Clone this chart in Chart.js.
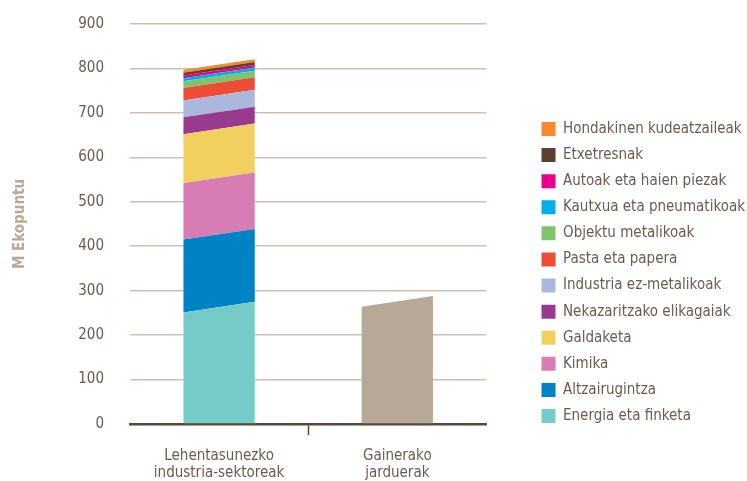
<!DOCTYPE html>
<html>
<head>
<meta charset="utf-8">
<script src="https://cdn.jsdelivr.net/npm/chart.js@4/dist/chart.umd.min.js"></script>
<style>
  html, body { margin: 0; padding: 0; background: #ffffff; }
  #wrap { width: 747px; height: 481px; }
</style>
</head>
<body>
<div id="wrap"><canvas id="c" width="747" height="481"></canvas></div>
<script>
// ---- data ----
const categories = [["Lehentasunezko", "industria-sektoreak"], ["Gainerako", "jarduerak"]];
const yTicks = [0, 100, 200, 300, 400, 500, 600, 700, 800, 900];
const yTitle = "M Ekopuntu";

// sectors, bottom -> top of the stacked bar
const sectorNames = [
  "Energia eta finketa",
  "Altzairugintza",
  "Kimika",
  "Galdaketa",
  "Nekazaritzako elikagaiak",
  "Industria ez-metalikoak",
  "Pasta eta papera",
  "Objektu metalikoak",
  "Kautxua eta pneumatikoak",
  "Autoak eta haien piezak",
  "Etxetresnak",
  "Hondakinen kudeatzaileak"
];
const sectorValues = [263, 164, 127, 110, 38, 38, 28, 15, 7, 6, 6.5, 6.5];
const sectorColors = [
  "#74cbc8", "#0083c4", "#d87cb4", "#f2d060", "#9a3a8e", "#aab8de",
  "#ef4c35", "#7fc36f", "#00aee8", "#e8008a", "#5c4030", "#f58a2e"
];
const otherName = "Gainerako jarduerak";
const otherValue = 276;
const otherColor = "#b8a898";

// ---- styles ----
const FONT = "'Liberation Sans Narrow', 'DejaVu Sans Condensed', 'Roboto Condensed', 'Liberation Sans', sans-serif";
const TEXT = "#6b5a4e";
const SLANT = 5.3;

const datasets = sectorNames.map((name, i) => ({
  label: name,
  data: [sectorValues[i], null],
  backgroundColor: sectorColors[i],
  borderWidth: 0,
  yAxisID: "y",
  stack: "s"
}));
datasets.push({
  label: otherName,
  data: [null, otherValue],
  backgroundColor: otherColor,
  borderWidth: 0,
  yAxisID: "y",
  stack: "s",
  legendHidden: true
});

// draws each bar segment as a slanted-top block using the bar element geometry
const slantBars = {
  id: "slantBars",
  beforeDatasetDraw(chart, args) {
    const meta = args.meta;
    const ctx = chart.ctx;
    const all = chart.data.datasets;
    const ds = all[args.index];
    ctx.save();
    ctx.fillStyle = ds.backgroundColor;
    meta.data.forEach((el, i) => {
      if (ds.data[i] === null || ds.data[i] === undefined) return;
      let below = 0;
      for (let k = 0; k < args.index; k++) below += all[k].data[i] || 0;
      const p = el.getProps(["x", "y", "base", "width"], true);
      const l = p.x - p.width / 2, r = p.x + p.width / 2;
      const b = below === 0 ? 0 : SLANT;
      ctx.beginPath();
      ctx.moveTo(l, p.base + b);
      ctx.lineTo(l, p.y + SLANT);
      ctx.lineTo(r, p.y - SLANT);
      ctx.lineTo(r, p.base - b);
      ctx.closePath();
      ctx.fill();
    });
    ctx.restore();
    return false;
  }
};

new Chart(document.getElementById("c"), {
  type: "bar",
  data: { labels: categories, datasets },
  plugins: [slantBars],
  options: {
    responsive: false,
    animation: false,
    devicePixelRatio: 1,
    layout: { padding: { top: 24, left: 0, right: -8, bottom: 0 } },
    datasets: { bar: { barPercentage: 0.8, categoryPercentage: 0.5 } },
    plugins: {
      tooltip: { enabled: false },
      legend: {
        position: "right",
        reverse: true,
        maxWidth: 320,
        title: { display: true, text: "", font: { size: 10, lineHeight: 1 }, padding: { top: 30, bottom: 0 } },
        labels: {
          boxWidth: 14,
          boxHeight: 14,
          padding: 11.1,
          color: TEXT,
          font: { family: FONT, size: 15 },
          filter: (item, data) => !data.datasets[item.datasetIndex].legendHidden
        }
      }
    },
    scales: {
      x: {
        stacked: true,
        offset: true,
        grid: {
          offset: true,
          drawOnChartArea: false,
          drawTicks: true,
          tickLength: 11,
          tickWidth: 1.5,
          tickColor: (c) => (c.index === 1 ? "#5a4636" : "rgba(0,0,0,0)")
        },
        border: { display: true, color: "#5a4636", width: 2.5 },
        ticks: {
          color: TEXT,
          padding: 12,
          maxRotation: 0,
          font: { family: FONT, size: 15, lineHeight: 1.15 }
        },
        afterFit: (s) => { s.height = 57; }
      },
      y: {
        stacked: true,
        min: 0,
        max: 900,
        afterBuildTicks: (s) => { s.ticks = yTicks.map(v => ({ value: v })); },
        grid: { color: "#cdbfb4", lineWidth: 1.5, drawTicks: true, tickLength: 24, tickColor: "rgba(0,0,0,0)" },
        border: { display: false },
        ticks: {
          color: TEXT,
          padding: 2,
          font: { family: FONT, size: 15 }
        },
        title: {
          display: true,
          text: yTitle,
          color: "#b8a898",
          padding: { top: 11, bottom: 0 },
          font: { family: FONT, size: 15, weight: "bold", lineHeight: 1.2 }
        },
        afterFit: (s) => { s.width = 130; }
      },
      yPad: {
        type: "linear",
        position: "right",
        display: true,
        min: 0,
        max: 1,
        grid: { display: false },
        border: { display: false },
        ticks: { display: false },
        afterFit: (s) => { s.width = 44; }
      }
    }
  }
});
</script>
</body>
</html>
